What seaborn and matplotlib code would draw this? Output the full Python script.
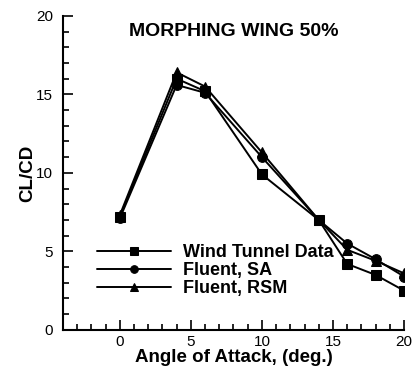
import numpy as np
import pandas as pd
import seaborn as sns
import matplotlib
matplotlib.use("Agg")
import matplotlib.pyplot as plt
from matplotlib.ticker import MultipleLocator

# angle of attack (deg.) and CL/CD for each source
alpha = [0, 4, 6, 10, 14, 16, 18, 20]
wind_tunnel = [7.2, 16.0, 15.2, 9.9, 7.0, 4.2, 3.5, 2.5]
fluent_sa = [7.1, 15.6, 15.1, 11.0, 7.0, 5.5, 4.5, 3.4]
fluent_rsm = [7.3, 16.4, 15.5, 11.3, 7.0, 5.1, 4.4, 3.6]
series_names = ["Wind Tunnel Data", "Fluent, SA", "Fluent, RSM"]

df = pd.DataFrame({
    "alpha": alpha * 3,
    "clcd": wind_tunnel + fluent_sa + fluent_rsm,
    "source": [n for n in series_names for _ in alpha],
})

sns.set_style("ticks", {"text.color": "black", "axes.labelcolor": "black",
                        "xtick.color": "black", "ytick.color": "black"})
plt.rcParams["font.family"] = ["Liberation Sans", "DejaVu Sans"]

fig = plt.figure(figsize=(4.14, 3.69), dpi=100)
ax = fig.add_axes([0.152, 0.106, 0.824, 0.851])

sns.lineplot(data=df, x="alpha", y="clcd", hue="source", style="source",
             palette=["black"] * 3, markers=["s", "o", "^"], dashes=False,
             markersize=7, linewidth=1.4, markeredgecolor="black", ax=ax)

ax.set_xlim(-4, 20)
ax.set_ylim(0, 20)
ax.xaxis.set_major_locator(MultipleLocator(5))
ax.xaxis.set_minor_locator(MultipleLocator(1))
ax.yaxis.set_major_locator(MultipleLocator(5))
ax.yaxis.set_minor_locator(MultipleLocator(1))
ax.tick_params(which="both", direction="in", labelsize=11, color="black",
               labelcolor="black", width=1.2)
ax.tick_params(which="major", length=7)
ax.tick_params(which="minor", length=4)
ax.tick_params(axis="y", which="major", pad=7)
ax.tick_params(axis="x", which="major", pad=4)
for s in ["left", "bottom"]:
    ax.spines[s].set_linewidth(1.5)
    ax.spines[s].set_color("black")
sns.despine(ax=ax)

ax.set_xlabel("Angle of Attack, (deg.)", fontsize=13.5, fontweight="bold", labelpad=0)
ax.set_ylabel("CL/CD", fontsize=13.5, fontweight="bold", labelpad=0)
ax.text(0.5, 0.949, "MORPHING WING 50%", transform=ax.transAxes, ha="center",
        va="center", fontsize=14, fontweight="bold", color="black")

leg = ax.legend(loc="lower left", bbox_to_anchor=(0.1, 0.105), frameon=False,
                handlelength=4.1, fontsize=13, borderaxespad=0, borderpad=0,
                labelspacing=0.05, handletextpad=0.67)
for t in leg.get_texts():
    t.set_fontweight("bold")
    t.set_color("black")
for h in leg.legend_handles:
    h.set_markersize(5.5)

fig.savefig("out.png", dpi=100)
